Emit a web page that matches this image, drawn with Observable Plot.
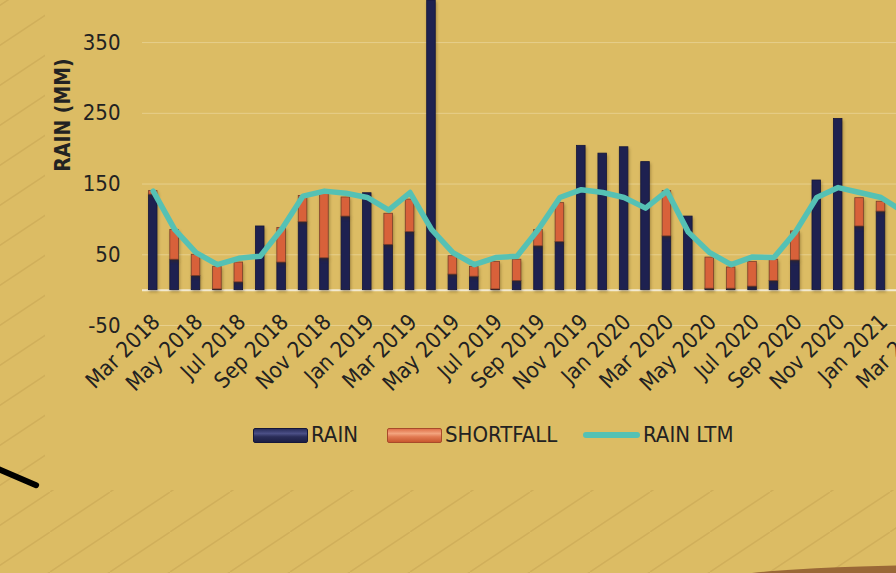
<!DOCTYPE html>
<html>
<head>
<meta charset="utf-8">
<script src="https://cdn.jsdelivr.net/npm/d3@7"></script>
<script src="https://cdn.jsdelivr.net/npm/@observablehq/plot@0.6"></script>
<style>
html, body { margin: 0; padding: 0; width: 896px; height: 573px; overflow: hidden; }
body {
  position: relative;
  background-color: #dcbc64;
  background-image: url("data:image/svg+xml,%3Csvg xmlns='http://www.w3.org/2000/svg' width='60' height='40'%3E%3Cpath d='M0 40 L60 0' stroke='%23d0af5a' stroke-width='1.5' fill='none'/%3E%3C/svg%3E");
  background-position: 50px 12px;
  font-family: "Liberation Sans Narrow", "DejaVu Sans Condensed", "Liberation Sans", sans-serif;
  color: #222;
}
#cover { position: absolute; left: 45px; top: 0; width: 900px; height: 490px; background: #dcbc64; }
#chart { position: absolute; left: 0; top: 0; width: 960px; }
#chart svg { max-width: none !important; }
#chart svg rect { filter: drop-shadow(1px 2px 1.5px rgba(60,40,0,0.35)); }
.stroke { position: absolute; left: -9px; top: 463px; width: 52px; height: 6px; background: #000; border-radius: 3px; transform: rotate(23deg); transform-origin: left center; }
.hill { position: absolute; left: 700px; top: 565px; width: 520px; height: 40px; background: #9a6837; border-radius: 50%; }
.lg { position: absolute; font-size: 22px; line-height: 1; color: #222; white-space: nowrap; }
.sw { position: absolute; border-radius: 2px; }
</style>
</head>
<body>
<div id="cover"></div>
<div class="stroke"></div>
<div class="hill"></div>
<div id="chart"></div>
<div class="sw" style="left:253px;top:428px;width:53px;height:13px;background:linear-gradient(#2a2e5c,#4b4f86 35%,#2a2d58 60%,#1c1f45);border:1px solid #15173a;"></div>
<div class="lg" style="left:311px;top:424px;">RAIN</div>
<div class="sw" style="left:387px;top:428px;width:53px;height:13px;background:linear-gradient(#e0724a,#f3a47e 35%,#e27a52 60%,#c9582f);border:1px solid #a84a2a;"></div>
<div class="lg" style="left:445px;top:424px;">SHORTFALL</div>
<div class="sw" style="left:583px;top:432px;width:57px;height:6px;background:#55c1b4;border-radius:3px;"></div>
<div class="lg" style="left:643px;top:424px;">RAIN LTM</div>
<script>
const months = [
  "Mar 2018","Apr 2018","May 2018","Jun 2018","Jul 2018","Aug 2018","Sep 2018","Oct 2018","Nov 2018","Dec 2018",
  "Jan 2019","Feb 2019","Mar 2019","Apr 2019","May 2019","Jun 2019","Jul 2019","Aug 2019","Sep 2019","Oct 2019","Nov 2019","Dec 2019",
  "Jan 2020","Feb 2020","Mar 2020","Apr 2020","May 2020","Jun 2020","Jul 2020","Aug 2020","Sep 2020","Oct 2020","Nov 2020","Dec 2020",
  "Jan 2021","Feb 2021","Mar 2021"
];
const rain = [
  135, 43, 20, 1, 11, 90, 39, 96, 45, 104,
  137, 64, 82, 470, 22, 19, 1, 13, 62, 68, 204, 193,
  202, 181, 76, 104, 2, 2, 5, 13, 42, 155, 242, 90,
  111
];
const shortfall = [
  5, 42, 30, 32, 28, 0, 49, 37, 94, 27,
  0, 44, 46, 0, 26, 14, 39, 30, 23, 55, 0, 0,
  0, 0, 64, 0, 44, 30, 35, 30, 41, 0, 0, 40,
  14
];
const rainLtm = [
  140, 86, 53, 36, 45, 48, 86, 133, 140, 137,
  131, 113, 138, 86, 53, 36, 46, 48, 86, 131, 142, 138,
  131, 116, 140, 82, 53, 36, 47, 46, 82, 131, 145, 138,
  131, 112
];
const yTicks = [-50, 50, 150, 250, 350];
const xTicks = months.filter((d, i) => i % 2 === 0);

const barData = rain.map((r, i) => ({month: months[i], rain: r, top: r + shortfall[i]}));
const lineData = rainLtm.map((v, i) => ({month: months[i], ltm: v}));

const fontFam = '"Liberation Sans Narrow", "DejaVu Sans Condensed", "Liberation Sans", sans-serif';

const chart = Plot.plot({
  width: 960,
  height: 400,
  marginLeft: 142,
  marginRight: 26,
  marginTop: 0,
  marginBottom: 75,
  style: {background: "transparent", fontFamily: fontFam, fontSize: "22px", color: "#222", overflow: "visible", maxWidth: "none"},
  x: {type: "band", domain: months, paddingInner: 0.6, paddingOuter: 0.3, round: false},
  y: {domain: [-50, 409.5], clamp: true},
  marks: [
    Plot.gridY(yTicks, {stroke: "#f4e6bd", strokeOpacity: 0.45, strokeWidth: 1}),
    Plot.ruleY([0], {stroke: "#f3ead0", strokeWidth: 2}),
    Plot.barY(barData, {x: "month", y: "rain", fill: "#1e2150", stroke: "#14163a", strokeWidth: 0.8}),
    Plot.barY(barData.filter(d => d.top > d.rain), {x: "month", y1: "rain", y2: "top", fill: "#d8613a", stroke: "#7a3f2a", strokeWidth: 0.8}),
    Plot.line(lineData, {x: "month", y: "ltm", stroke: "#55c1b4", strokeWidth: 5.5, strokeLinejoin: "round", strokeLinecap: "round"}),
    Plot.axisY(yTicks, {tickSize: 0, tickPadding: 22, fontSize: 22, label: null, tickFormat: d => String(d)}),
    Plot.axisX(xTicks, {tickSize: 0, tickRotate: -45, fontSize: 22, label: null, dy: -19, dx: 3}),
    Plot.text(["RAIN (MM)"], {text: d => d, frameAnchor: "left", textAnchor: "middle", dx: -79, dy: -48, rotate: -90, fontWeight: "bold", fontSize: 21})
  ]
});
document.getElementById("chart").appendChild(chart);
</script>
</body>
</html>
